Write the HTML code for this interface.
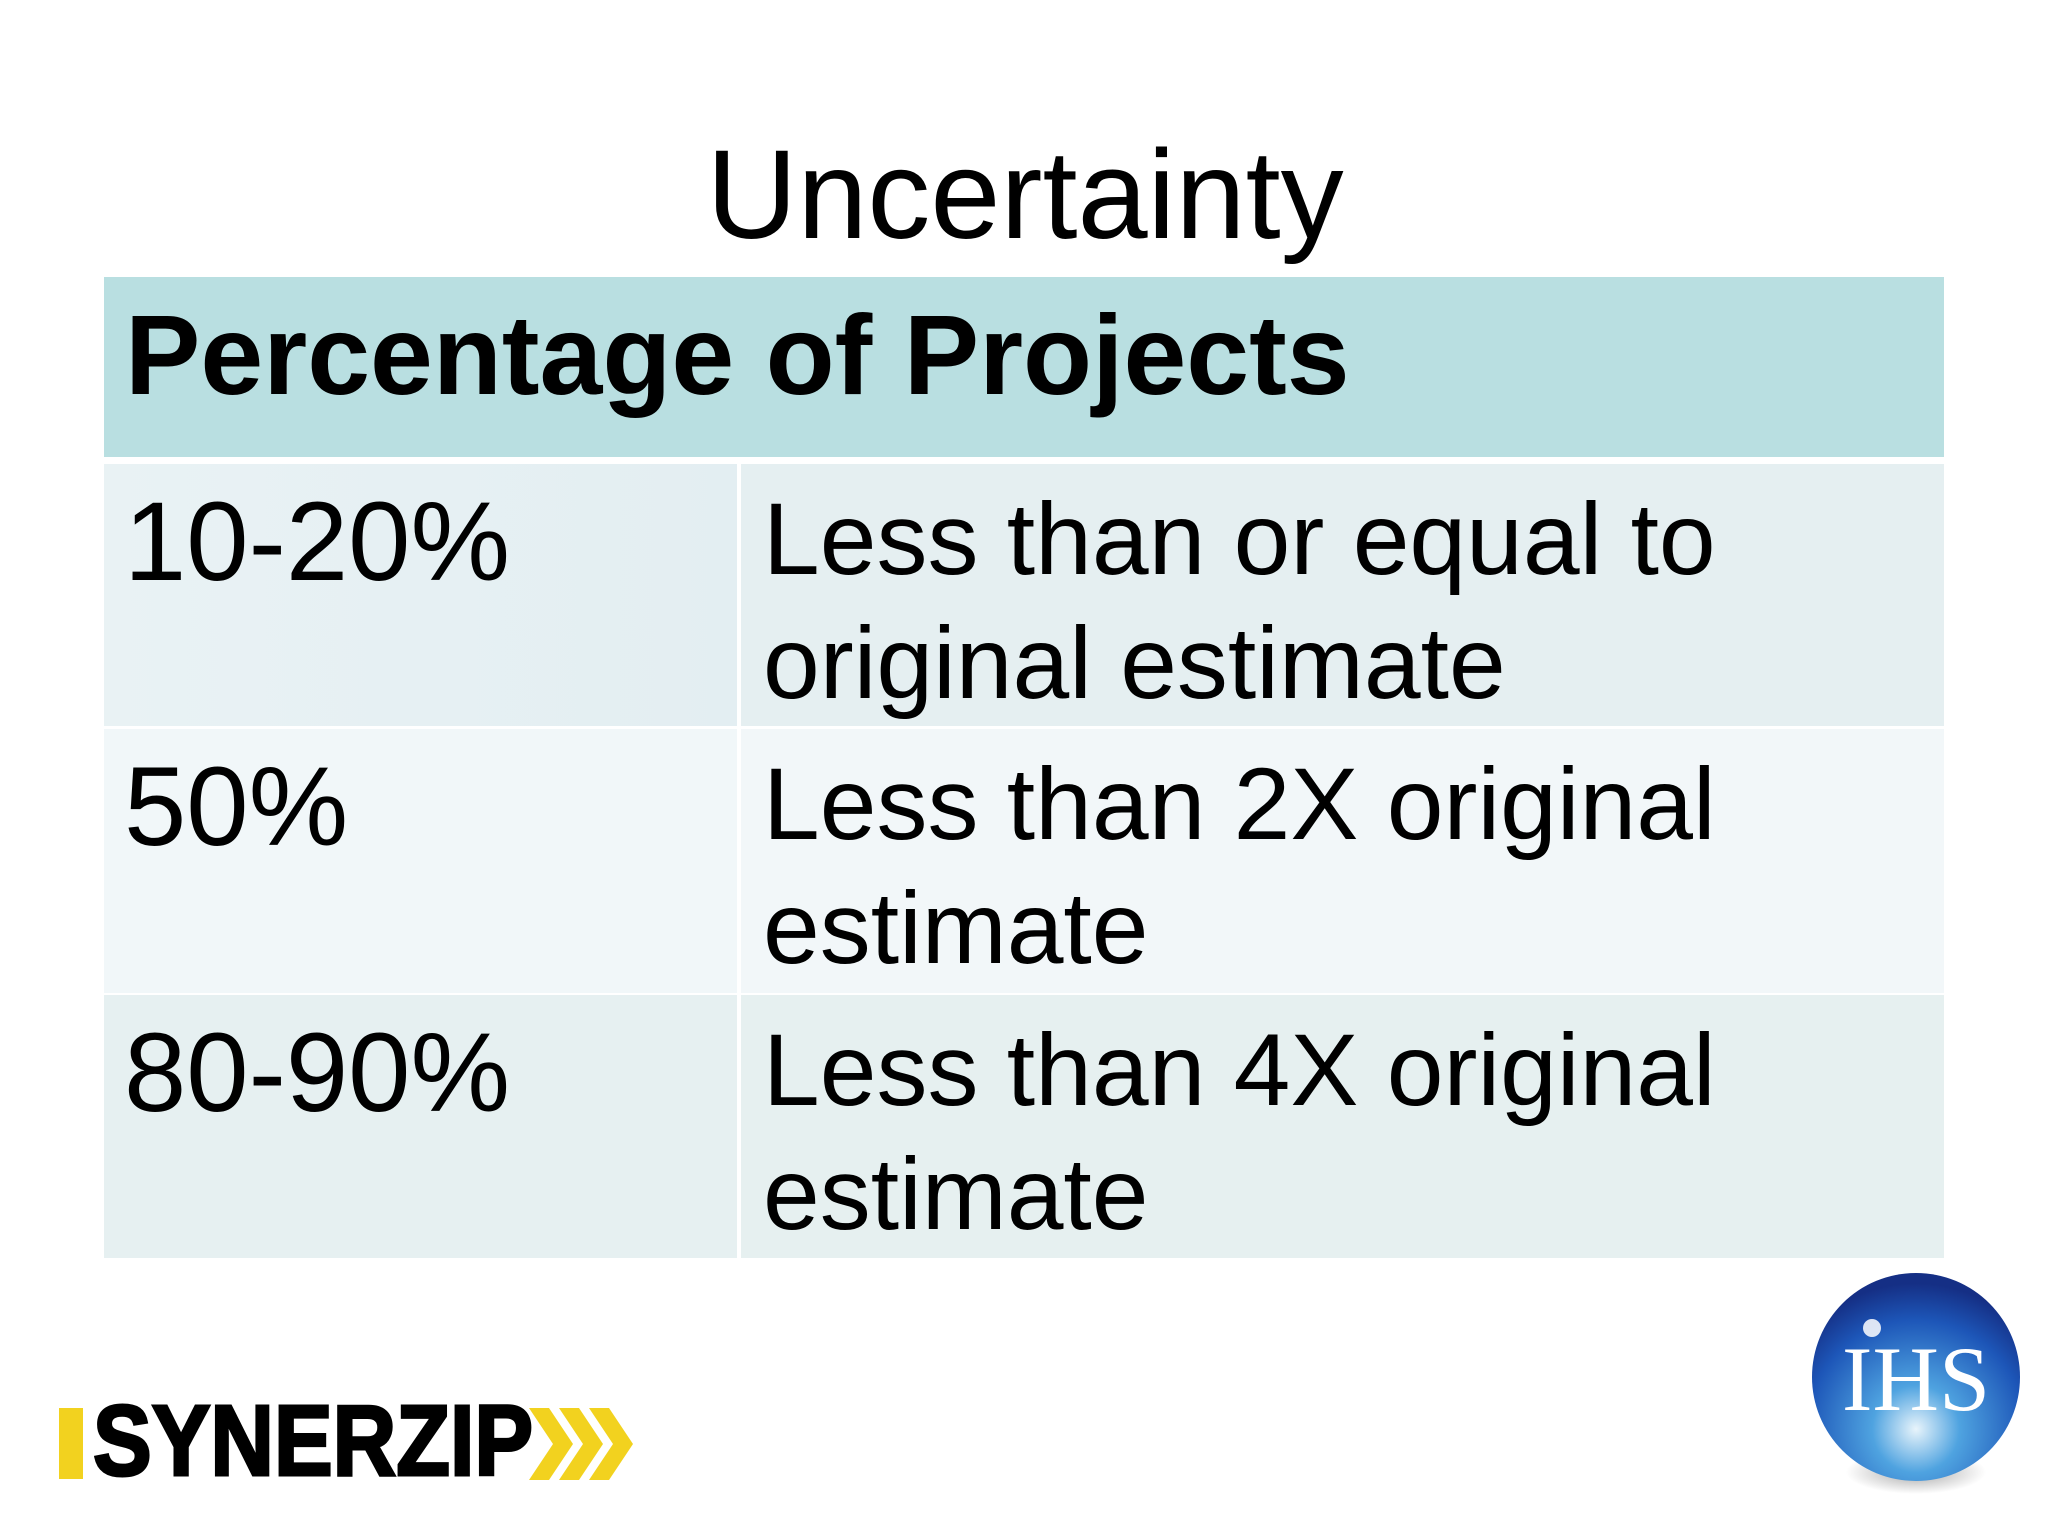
<!DOCTYPE html>
<html><head><meta charset="utf-8"><style>
body{margin:0;width:2048px;height:1536px;background:#fff;position:relative;overflow:hidden;font-family:"Liberation Sans",sans-serif;}
.abs{position:absolute;}
.t{position:absolute;white-space:nowrap;color:#000;}
</style></head><body>
<div class="t" style="left:0;width:2050px;text-align:center;top:120px;font-size:126px;line-height:150px;">Uncertainty</div>

<div class="abs" style="left:104px;top:277px;width:1840px;height:180px;background:#b9dfe1;"></div>
<div class="t" style="left:125px;top:295px;font-size:113px;font-weight:bold;line-height:120px;">Percentage of Projects</div>

<div class="abs" style="left:104px;top:464px;width:633px;height:262px;background:linear-gradient(90deg,#e9f2f4,#e3eef2);"></div>
<div class="abs" style="left:741px;top:464px;width:1203px;height:262px;background:#e5eff1;"></div>
<div class="abs" style="left:104px;top:729px;width:633px;height:264px;background:#f1f7f9;"></div>
<div class="abs" style="left:741px;top:729px;width:1203px;height:264px;background:#f2f7f9;"></div>
<div class="abs" style="left:104px;top:995px;width:633px;height:263px;background:#e6f0f1;"></div>
<div class="abs" style="left:741px;top:995px;width:1203px;height:263px;background:#e6f0f0;"></div>

<div class="t" style="left:124px;top:482px;font-size:112px;line-height:120px;">10-20%</div>
<div class="t" style="left:763px;top:477px;font-size:102px;line-height:124px;">Less than or equal to<br>original estimate</div>
<div class="t" style="left:124px;top:747px;font-size:112px;line-height:120px;">50%</div>
<div class="t" style="left:763px;top:742px;font-size:102px;line-height:124px;">Less than 2X original<br>estimate</div>
<div class="t" style="left:124px;top:1013px;font-size:112px;line-height:120px;">80-90%</div>
<div class="t" style="left:763px;top:1008px;font-size:102px;line-height:124px;">Less than 4X original<br>estimate</div>

<div class="abs" style="left:59px;top:1402px;width:590px;height:80px;">
  <div class="abs" style="left:0;top:6px;width:24px;height:71px;background:#f2d21f;"></div>
  <div class="t" style="left:34px;top:-8px;font-size:100px;font-weight:bold;line-height:95px;transform:scaleX(0.88);transform-origin:left top;-webkit-text-stroke:3px #000;">SYNERZIP</div>
  <svg class="abs" style="left:470px;top:6px;" width="120" height="72" viewBox="0 0 120 72">
    <polygon points="0,0 20,0 44,36 20,72 0,72 24,36" fill="#f2d21f"/>
    <polygon points="30,0 50,0 74,36 50,72 30,72 54,36" fill="#f2d21f"/>
    <polygon points="60,0 80,0 104,36 80,72 60,72 84,36" fill="#f2d21f"/>
  </svg>
</div>

<div class="abs" style="left:1800px;top:1262px;width:232px;height:240px;">
  <svg width="232" height="240" viewBox="0 0 232 240">
    <defs>
      <radialGradient id="g" cx="0.5" cy="0.75" r="0.7">
        <stop offset="0" stop-color="#e8f4fb"/>
        <stop offset="0.3" stop-color="#4fa3e0"/>
        <stop offset="0.75" stop-color="#1d56b8"/>
        <stop offset="1" stop-color="#152f85"/>
      </radialGradient>
      <radialGradient id="s" cx="0.5" cy="0.5" r="0.5">
        <stop offset="0" stop-color="#000" stop-opacity="0.35"/>
        <stop offset="1" stop-color="#000" stop-opacity="0"/>
      </radialGradient>
    </defs>
    <ellipse cx="116" cy="210" rx="70" ry="22" fill="url(#s)"/>
    <circle cx="116" cy="115" r="104" fill="url(#g)"/>
    <circle cx="72" cy="66" r="9" fill="#fff" opacity="0.85"/>
    <text x="116" y="148" text-anchor="middle" font-family="Liberation Serif,serif" font-size="92" fill="#fff">IHS</text>
  </svg>
</div>
</body></html>
